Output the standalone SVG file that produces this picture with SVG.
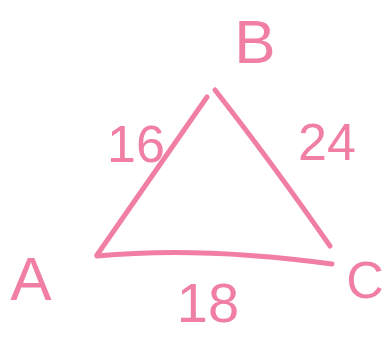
<svg xmlns="http://www.w3.org/2000/svg" width="384" height="338" viewBox="0 0 384 338">
<style>
.edge{fill:none;stroke:#f07fa3;stroke-width:5;stroke-linecap:round;stroke-linejoin:round}
.lbl{font-family:"Liberation Sans",Arial,sans-serif;fill:#f07fa3;text-anchor:middle}
</style>
<rect width="384" height="338" fill="#ffffff"/>
<g id="connectors">
<path class="edge" d="M207,97 L97,255"/>
<path class="edge" d="M215,90 Q270,160 330,246"/>
<path class="edge" d="M97,256 Q200,246 332,264"/>
</g>
<g id="node-B"><text class="lbl" x="255" y="63" font-size="62">B</text></g>
<g id="node-A"><text class="lbl" x="31" y="300" font-size="62">A</text></g>
<g id="node-C"><text class="lbl" x="365" y="298" font-size="52">C</text></g>
<g id="label-16"><text class="lbl" x="136" y="162" font-size="52">16</text></g>
<g id="label-24"><text class="lbl" x="327" y="160" font-size="52">24</text></g>
<g id="label-18"><text class="lbl" x="208" y="322" font-size="56">18</text></g>
</svg>
